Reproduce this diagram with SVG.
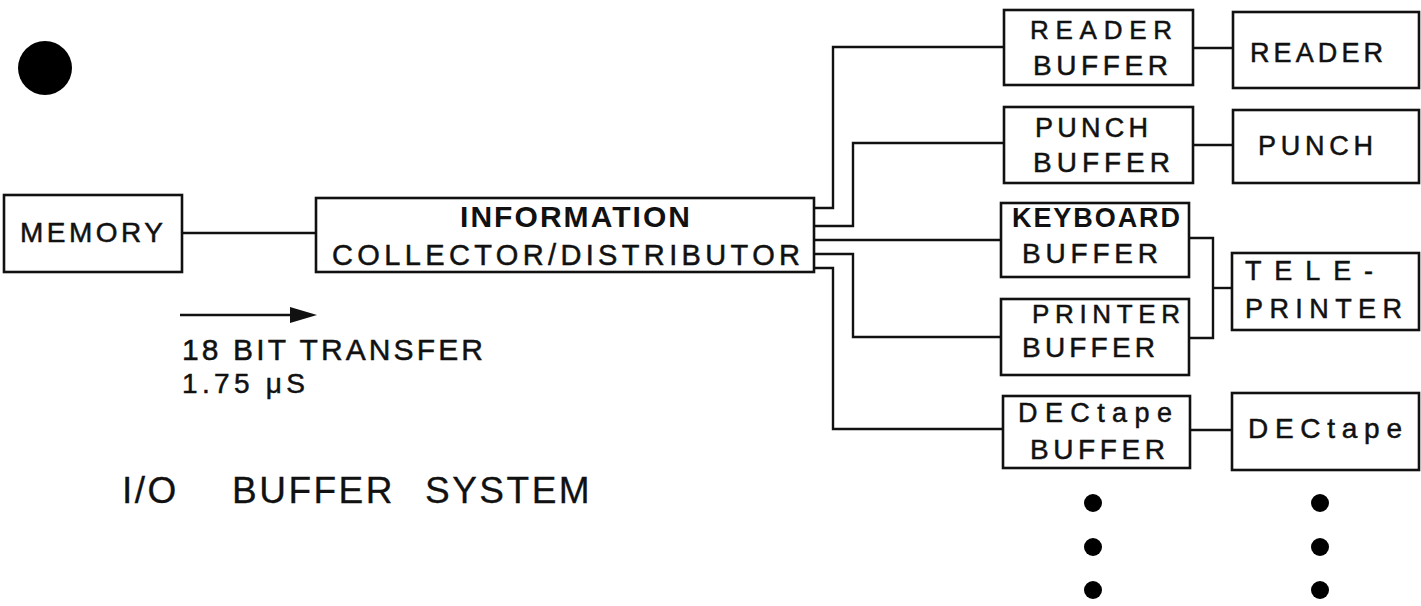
<svg xmlns="http://www.w3.org/2000/svg" width="1421" height="606" viewBox="0 0 1421 606">
<style>
.box{fill:#fff;stroke:#111;stroke-width:2.6}
.ln{fill:none;stroke:#111;stroke-width:2.4}
.t{font-family:"Liberation Sans",Arial,sans-serif;fill:#111;stroke:#111;stroke-width:0.5}
.b{font-weight:bold;stroke-width:0}
.dot{fill:#000}
</style>
<rect width="1421" height="606" fill="#fff"/>
<circle class="dot" cx="45" cy="68" r="27"/>

<g id="connectors">
<line class="ln" x1="182" y1="233" x2="316" y2="233"/>
<polyline class="ln" points="814,208 833,208 833,47 1004,47"/>
<polyline class="ln" points="814,226 853,226 853,143 1004,143"/>
<line class="ln" x1="814" y1="240" x2="1001" y2="240"/>
<polyline class="ln" points="814,254 853,254 853,337 1001,337"/>
<polyline class="ln" points="814,268 833,268 833,429 1003,429"/>
<line class="ln" x1="1193" y1="48" x2="1233" y2="48"/>
<line class="ln" x1="1193" y1="145" x2="1233" y2="145"/>
<polyline class="ln" points="1189,238 1213,238 1213,338 1189,338"/>
<line class="ln" x1="1213" y1="288" x2="1232" y2="288"/>
<line class="ln" x1="1190" y1="430" x2="1232" y2="430"/>
</g>

<g id="memory">
<rect class="box" x="4" y="195" width="178" height="77"/>
<text class="t" x="20" y="242" style="font-size:28px" textLength="143" lengthAdjust="spacing">MEMORY</text>
</g>
<g id="icd">
<rect class="box" x="316" y="198" width="498" height="74"/>
<text class="t b" x="460" y="227" style="font-size:30px" textLength="230" lengthAdjust="spacing">INFORMATION</text>
<text class="t" x="332" y="265" style="font-size:29px" textLength="468" lengthAdjust="spacing">COLLECTOR/DISTRIBUTOR</text>
</g>
<g id="reader-buffer">
<rect class="box" x="1004" y="10" width="189" height="75"/>
<text class="t" x="1030" y="39" style="font-size:26px" textLength="142" lengthAdjust="spacing">READER</text>
<text class="t" x="1033" y="75" style="font-size:28px" textLength="135" lengthAdjust="spacing">BUFFER</text>
</g>
<g id="punch-buffer">
<rect class="box" x="1004" y="107" width="189" height="76"/>
<text class="t" x="1035" y="137" style="font-size:27px" textLength="113" lengthAdjust="spacing">PUNCH</text>
<text class="t" x="1033" y="172" style="font-size:28px" textLength="137" lengthAdjust="spacing">BUFFER</text>
</g>
<g id="keyboard-buffer">
<rect class="box" x="1001" y="203" width="188" height="74"/>
<text class="t b" x="1012" y="227" style="font-size:27px" textLength="168" lengthAdjust="spacing">KEYBOARD</text>
<text class="t" x="1022" y="263" style="font-size:28px" textLength="136" lengthAdjust="spacing">BUFFER</text>
</g>
<g id="printer-buffer">
<rect class="box" x="1001" y="299" width="188" height="76"/>
<text class="t" x="1032" y="323" style="font-size:26px" textLength="148" lengthAdjust="spacing">PRINTER</text>
<text class="t" x="1022" y="357" style="font-size:28px" textLength="133" lengthAdjust="spacing">BUFFER</text>
</g>
<g id="dectape-buffer">
<rect class="box" x="1003" y="396" width="187" height="72"/>
<text class="t" x="1018" y="422" style="font-size:27px" textLength="154" lengthAdjust="spacing">DECtape</text>
<text class="t" x="1030" y="459" style="font-size:28px" textLength="135" lengthAdjust="spacing">BUFFER</text>
</g>
<g id="reader">
<rect class="box" x="1233" y="12" width="186" height="76"/>
<text class="t" x="1250" y="62" style="font-size:27px" textLength="133" lengthAdjust="spacing">READER</text>
</g>
<g id="punch">
<rect class="box" x="1233" y="110" width="186" height="73"/>
<text class="t" x="1258" y="155" style="font-size:27px" textLength="115" lengthAdjust="spacing">PUNCH</text>
</g>
<g id="teleprinter">
<rect class="box" x="1232" y="253" width="187" height="77"/>
<text class="t" x="1245" y="280" style="font-size:27px" textLength="128" lengthAdjust="spacing">TELE-</text>
<text class="t" x="1245" y="318" style="font-size:27px" textLength="157" lengthAdjust="spacing">PRINTER</text>
</g>
<g id="dectape">
<rect class="box" x="1232" y="393" width="187" height="77"/>
<text class="t" x="1248" y="438" style="font-size:28px" textLength="154" lengthAdjust="spacing">DECtape</text>
</g>

<g id="legend">
<line class="ln" x1="180" y1="315" x2="294" y2="315" stroke-width="2.6"/>
<path d="M290,307 L317,315 L290,323 Z" fill="#111"/>
<text class="t" x="182" y="360" style="font-size:30px" textLength="301" lengthAdjust="spacing">18 BIT TRANSFER</text>
<text class="t" x="182" y="393" style="font-size:28px" textLength="123" lengthAdjust="spacing">1.75 μS</text>
<text class="t" y="503" style="font-size:37px;stroke-width:0.3;letter-spacing:2.5px"><tspan x="122">I/O </tspan><tspan x="232">BUFFER </tspan><tspan x="425">SYSTEM</tspan></text>
</g>

<g id="ellipsis">
<circle class="dot" cx="1093" cy="503" r="9"/>
<circle class="dot" cx="1093" cy="547" r="9"/>
<circle class="dot" cx="1093" cy="590" r="9"/>
<circle class="dot" cx="1320" cy="503" r="9"/>
<circle class="dot" cx="1320" cy="547" r="9"/>
<circle class="dot" cx="1320" cy="590" r="9"/>
</g>
</svg>
